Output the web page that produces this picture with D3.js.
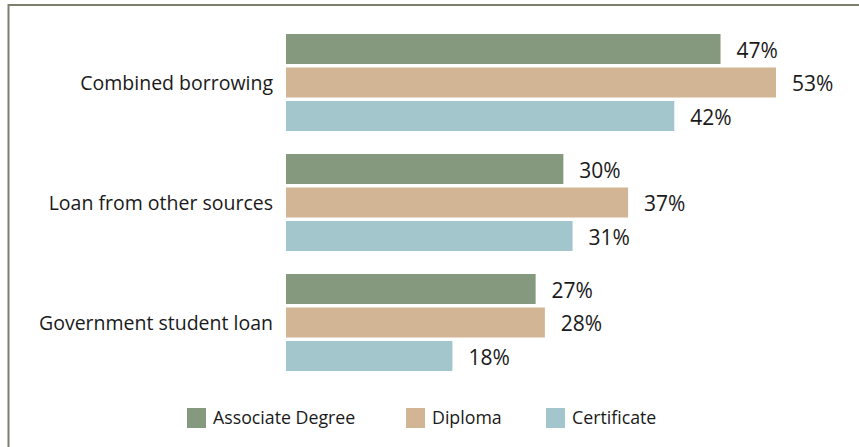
<!DOCTYPE html>
<html>
<head>
<meta charset="utf-8">
<script src="https://cdn.jsdelivr.net/npm/d3@7/dist/d3.min.js"></script>
<style>
  html, body { margin: 0; padding: 0; background: #fff; }
  svg { display: block; font-family: "Open Sans", "Noto Sans", sans-serif; }
</style>
</head>
<body>
<svg id="chart" width="859" height="447"></svg>
<script>
// Share of students borrowing, by source and credential
const categories = ["Combined borrowing", "Loan from other sources", "Government student loan"];
const seriesNames = ["Associate Degree", "Diploma", "Certificate"];
const associateDegree = [47, 30, 27];
const diploma = [53, 37, 28];
const certificate = [42, 31, 18];
const colors = ["#84997e", "#d1b594", "#a3c6cc"];

const seriesValues = [associateDegree, diploma, certificate];

const svg = d3.select("#chart");
const W = 859, H = 447;

// Frame: top and left rule
svg.append("line").attr("x1", 8).attr("x2", W).attr("y1", 5).attr("y2", 5)
  .attr("stroke", "#7f7f6e").attr("stroke-width", 2);
svg.append("line").attr("x1", 8.5).attr("x2", 8.5).attr("y1", 4).attr("y2", H)
  .attr("stroke", "#7f7f6e").attr("stroke-width", 2);

const x = d3.scaleLinear().domain([0, 53]).range([286, 776]);

const y = d3.scaleBand().domain(categories).range([22, 382]).paddingInner(0).paddingOuter(0);
const yInner = d3.scaleBand().domain(seriesNames).range([12, 109]).paddingInner(0.104);

const groups = svg.selectAll("g.cat").data(categories).enter().append("g")
  .attr("class", "cat")
  .attr("transform", c => `translate(0,${y(c)})`);

groups.append("text")
  .attr("x", 273)
  .attr("y", yInner("Diploma") + yInner.bandwidth() / 2)
  .attr("dy", "0.36em")
  .attr("text-anchor", "end")
  .attr("font-size", 19.5)
  .attr("fill", "#1a1a1a")
  .text(c => c);

groups.each(function(c, ci) {
  const g = d3.select(this);
  seriesNames.forEach((s, si) => {
    const v = seriesValues[si][ci];
    g.append("rect")
      .attr("x", x(0))
      .attr("y", yInner(s))
      .attr("width", x(v) - x(0))
      .attr("height", yInner.bandwidth())
      .attr("fill", colors[si]);
    g.append("text")
      .attr("x", x(v) + 16)
      .attr("y", yInner(s) + yInner.bandwidth() / 2)
      .attr("dy", "0.42em")
      .attr("font-size", 21)
      .attr("fill", "#1a1a1a")
      .text(v + "%");
  });
});

// Legend
const legendX = [187, 406, 546];
const legend = svg.selectAll("g.leg").data(seriesNames).enter().append("g")
  .attr("class", "leg")
  .attr("transform", (d, i) => `translate(${legendX[i]},408)`);
legend.append("rect").attr("width", 19).attr("height", 20).attr("fill", (d, i) => colors[i]);
legend.append("text").attr("x", 26).attr("y", 10).attr("dy", "0.36em")
  .attr("font-size", 17.75).attr("fill", "#1a1a1a").text(d => d);
</script>
</body>
</html>
